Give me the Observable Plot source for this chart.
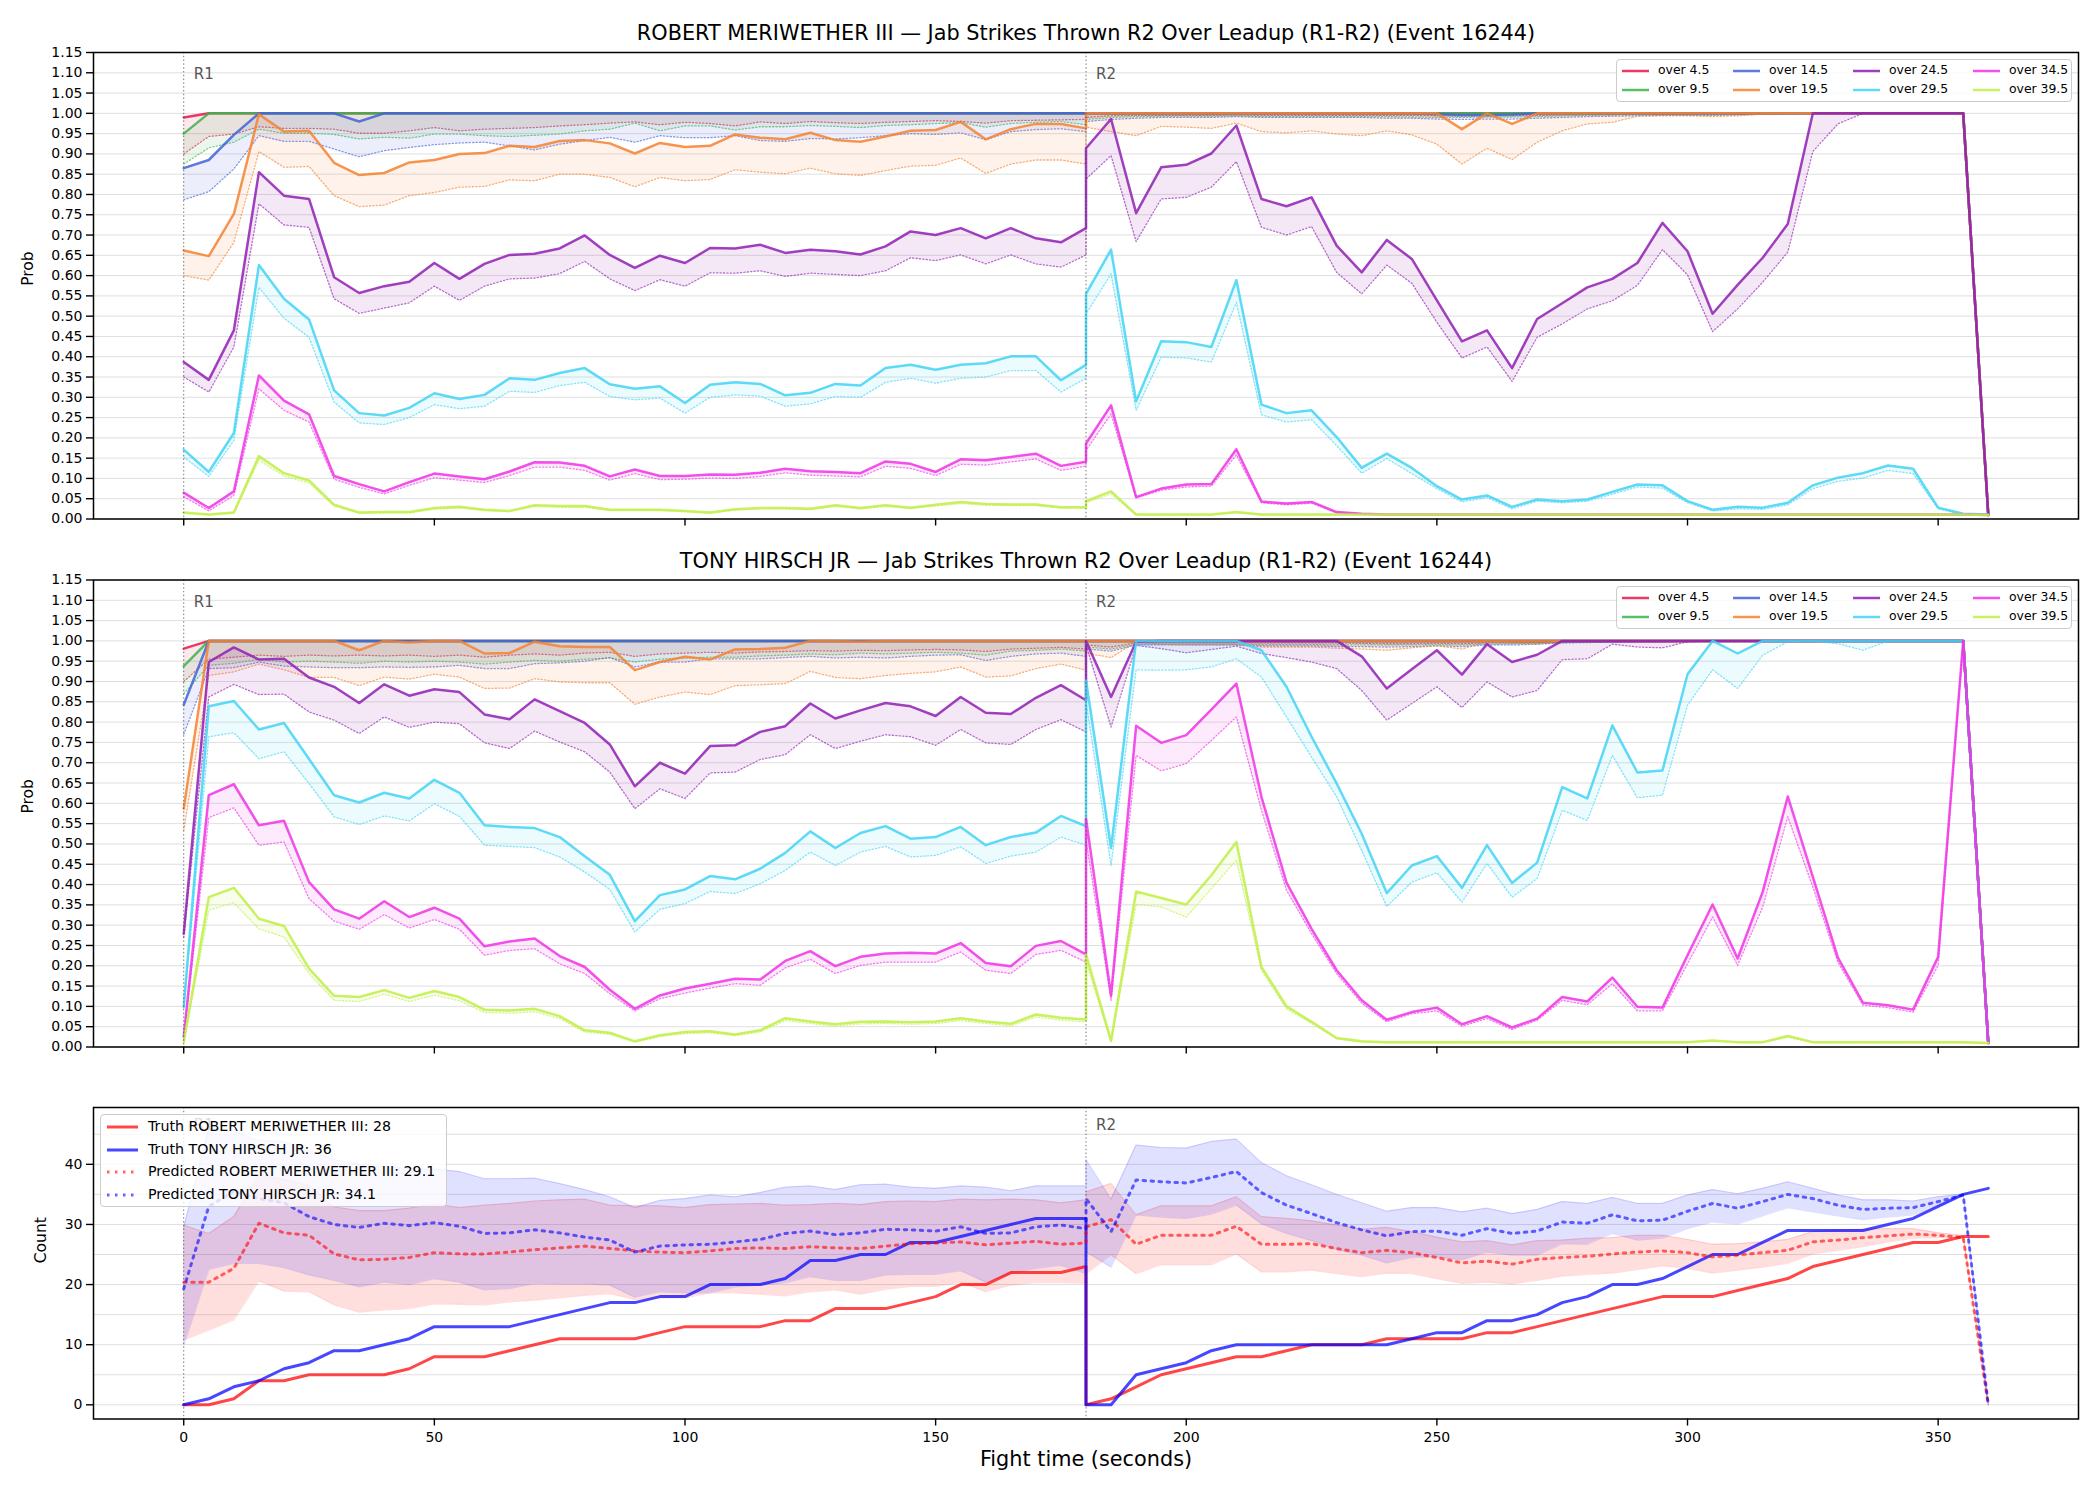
<!DOCTYPE html>
<html><head><meta charset="utf-8">
<script src="https://cdn.jsdelivr.net/npm/d3@7"></script>
<script src="https://cdn.jsdelivr.net/npm/@observablehq/plot@0.6"></script>
<style>
body{margin:0;background:#fff;font-family:"DejaVu Sans",sans-serif;}
#root{position:relative;width:2100px;height:1500px;overflow:hidden;background:#fff;}
.panel{position:absolute;left:0;}
.legend{position:absolute;background:rgba(255,255,255,0.8);border:1.3px solid #cccccc;border-radius:4px;box-sizing:border-box;color:#000;}
.legend .item{position:absolute;white-space:nowrap;line-height:1;}
.legend svg{position:absolute;overflow:visible;}
</style></head><body><div id="root"></div>
<script>
// ---------- time stamps (seconds) ----------
const tR1 = [0,5,10,15,20,25,30,35,40,45,50,55,60,65,70,75,80,85,90,95,100,105,110,115,120,125,130,135,140,145,150,155,160,165,170,175,180];
const tR2 = [180,185,190,195,200,205,210,215,220,225,230,235,240,245,250,255,260,265,270,275,280,285,290,295,300,305,310,315,320,325,330,335,340,345,350,355,360];
const roundStarts = [0, 180];
const roundNames = ["R1", "R2"];
const thresholdLabels = ["over 4.5","over 9.5","over 14.5","over 19.5","over 24.5","over 29.5","over 34.5","over 39.5"];
const palette = ["#e6194b","#3cb44b","#4363d8","#f58231","#911eb4","#42d4f4","#f032e6","#bfef45"];
const xTicks = [0,50,100,150,200,250,300,350];
const probTicks = [0,0.05,0.1,0.15,0.2,0.25,0.3,0.35,0.4,0.45,0.5,0.55,0.6,0.65,0.7,0.75,0.8,0.85,0.9,0.95,1,1.05,1.1,1.15];
const countTicks = [0,10,20,30,40];
const countGrid = [0,5,10,15,20,25,30,35,40,45];

// ---------- ROBERT MERIWETHER III : probability lines (solid = hi, dotted = lo) ----------
const rm_hi_45 = [0.99,1,1,1,1,1,1,1,1,1, 1,1,1,1,1,1,1,1,1,1, 1,1,1,1,1,1,1,1,1,1, 1,1,1,1,1,1,1,
  1,1,1,1,1,1,1,1,1,1, 1,1,1,1,1,1,1,1,1,1, 1,1,1,1,1,1,1,1,1,1, 1,1,1,1,1,1,0.01];
const rm_lo_45 = [0.90,0.943,0.949,0.967,0.963,0.963,0.961,0.951,0.951,0.957, 0.965,0.957,0.961,0.963,0.965,0.969,0.972,0.976,0.979,0.972, 0.978,0.975,0.969,0.979,0.975,0.98,0.977,0.975,0.978,0.98, 0.982,0.98,0.976,0.982,0.983,0.984,0.985,
  0.99,0.994,0.995,0.995,0.995,0.995,0.996,0.995,0.995,0.995, 0.995,0.995,0.995,0.995,0.994,0.993,0.994,0.994,0.995,0.996, 0.997,0.997,0.998,0.998,0.998,0.998,0.998,0.999,1,1, 1,1,1,1,1,1,0.01];
const rm_hi_95 = [0.95,1,1,1,1,1,1,1,1,1, 1,1,1,1,1,1,1,1,1,1, 1,1,1,1,1,1,1,1,1,1, 1,1,1,1,1,1,1,
  1,1,1,1,1,1,1,1,1,1, 1,1,1,1,1,1,1,1,1,1, 1,1,1,1,1,1,1,1,1,1, 1,1,1,1,1,1,0.01];
const rm_lo_95 = [0.875,0.915,0.929,0.961,0.951,0.951,0.948,0.937,0.941,0.939, 0.949,0.949,0.945,0.943,0.946,0.949,0.957,0.961,0.976,0.957, 0.969,0.969,0.959,0.967,0.967,0.97,0.968,0.965,0.97,0.972, 0.975,0.977,0.966,0.975,0.978,0.98,0.972,
  0.985,0.99,0.992,0.993,0.993,0.993,0.994,0.992,0.992,0.992, 0.992,0.992,0.992,0.991,0.99,0.99,0.991,0.991,0.992,0.994, 0.995,0.996,0.997,0.997,0.997,0.997,0.998,0.999,1,1, 1,1,1,1,1,1,0.01];
const rm_hi_145 = [0.865,0.885,0.947,1,1,1,1,0.98,1,1, 1,1,1,1,1,1,1,1,1,1, 1,1,1,1,1,1,1,1,1,1, 1,1,1,1,1,1,1,
  1,1,1,1,1,1,1,1,1,1, 1,1,1,1,0.998,0.996,0.996,0.997,1,1, 1,1,1,1,1,1,1,1,1,1, 1,1,1,1,1,1,0.01];
const rm_lo_145 = [0.787,0.807,0.863,0.945,0.931,0.931,0.912,0.893,0.908,0.916, 0.923,0.927,0.929,0.92,0.91,0.924,0.933,0.941,0.929,0.945, 0.94,0.94,0.945,0.933,0.931,0.938,0.937,0.94,0.945,0.95, 0.948,0.952,0.935,0.955,0.96,0.962,0.955,
  0.98,0.985,0.988,0.99,0.99,0.99,0.992,0.99,0.99,0.99, 0.99,0.99,0.988,0.988,0.986,0.985,0.986,0.986,0.988,0.99, 0.992,0.993,0.994,0.995,0.995,0.995,0.996,0.998,1,1, 1,1,1,1,1,1,0.01];
const rm_hi_195 = [0.662,0.648,0.752,0.998,0.955,0.957,0.878,0.848,0.853,0.879, 0.885,0.90,0.902,0.92,0.917,0.932,0.934,0.926,0.901,0.927, 0.917,0.92,0.948,0.94,0.936,0.952,0.934,0.93,0.943,0.957, 0.959,0.979,0.936,0.961,0.974,0.974,0.963,
  1,1,1,1,1,1,1,1,1,1, 1,1,1,1,1,0.961,1,0.974,1,1, 1,1,1,1,1,1,1,1,1,1, 1,1,1,1,1,1,0.01];
const rm_lo_195 = [0.60,0.589,0.682,0.906,0.867,0.869,0.797,0.77,0.774,0.797, 0.805,0.818,0.82,0.836,0.834,0.85,0.85,0.842,0.819,0.842, 0.834,0.837,0.861,0.855,0.851,0.865,0.851,0.847,0.859,0.87, 0.872,0.89,0.852,0.875,0.885,0.885,0.875,
  0.966,0.955,0.945,0.968,0.966,0.963,0.976,0.955,0.952,0.957, 0.949,0.945,0.957,0.947,0.924,0.875,0.914,0.886,0.929,0.957, 0.974,0.978,0.993,0.994,0.994,0.992,0.994,0.998,1,1, 1,1,1,1,1,1,0.01];
const rm_hi_245 = [0.387,0.343,0.465,0.855,0.797,0.789,0.596,0.557,0.574,0.585, 0.631,0.592,0.629,0.651,0.654,0.667,0.699,0.651,0.619,0.649, 0.631,0.668,0.667,0.676,0.656,0.664,0.66,0.652,0.672,0.709, 0.70,0.717,0.692,0.717,0.692,0.682,0.717,
  0.914,0.986,0.754,0.867,0.873,0.901,0.97,0.789,0.771,0.793, 0.674,0.608,0.688,0.641,0.539,0.438,0.465,0.372,0.493,0.532, 0.571,0.592,0.631,0.73,0.66,0.506,0.577,0.644,0.727,1, 1,1,1,1,1,1,0.01];
const rm_lo_245 = [0.35,0.313,0.424,0.777,0.725,0.719,0.543,0.507,0.52,0.533, 0.574,0.539,0.574,0.592,0.594,0.605,0.635,0.592,0.563,0.59, 0.574,0.607,0.606,0.612,0.598,0.606,0.603,0.60,0.612,0.644, 0.637,0.651,0.629,0.651,0.629,0.621,0.651,
  0.838,0.896,0.684,0.789,0.793,0.818,0.881,0.719,0.70,0.721, 0.608,0.555,0.626,0.581,0.485,0.397,0.424,0.339,0.448,0.481, 0.518,0.538,0.576,0.664,0.602,0.462,0.518,0.584,0.658,0.906, 0.974,1,1,1,1,1,0.01];
const rm_hi_295 = [0.171,0.116,0.212,0.626,0.543,0.492,0.317,0.261,0.255,0.274, 0.31,0.296,0.306,0.347,0.343,0.36,0.372,0.332,0.321,0.327, 0.286,0.331,0.337,0.333,0.305,0.311,0.333,0.329,0.372,0.38, 0.368,0.38,0.384,0.401,0.401,0.342,0.38,
  0.555,0.664,0.29,0.438,0.436,0.424,0.589,0.282,0.261,0.268, 0.202,0.126,0.161,0.126,0.081,0.048,0.058,0.03,0.048,0.044, 0.048,0.067,0.085,0.083,0.044,0.023,0.03,0.028,0.04,0.083, 0.102,0.113,0.132,0.124,0.028,0.013,0.011];
const rm_lo_295 = [0.153,0.105,0.194,0.571,0.495,0.448,0.288,0.237,0.233,0.25, 0.282,0.272,0.278,0.315,0.312,0.329,0.337,0.302,0.294,0.298, 0.261,0.30,0.306,0.303,0.278,0.284,0.302,0.30,0.337,0.347, 0.335,0.347,0.35,0.366,0.366,0.313,0.347,
  0.506,0.604,0.268,0.399,0.397,0.387,0.534,0.257,0.239,0.245, 0.181,0.113,0.149,0.112,0.075,0.042,0.053,0.025,0.044,0.04, 0.044,0.061,0.079,0.076,0.04,0.02,0.025,0.024,0.035,0.075, 0.093,0.101,0.12,0.112,0.025,0.011,0.01];
const rm_hi_345 = [0.065,0.027,0.068,0.354,0.292,0.258,0.106,0.086,0.068,0.091, 0.112,0.105,0.098,0.117,0.14,0.139,0.131,0.105,0.122,0.106, 0.106,0.11,0.109,0.114,0.124,0.118,0.116,0.113,0.142,0.136, 0.116,0.147,0.145,0.153,0.161,0.131,0.141,
  0.186,0.28,0.054,0.075,0.085,0.086,0.172,0.043,0.038,0.042, 0.017,0.013,0.011,0.011,0.011,0.011,0.011,0.011,0.011,0.011, 0.011,0.011,0.011,0.011,0.011,0.011,0.011,0.011,0.011,0.011, 0.011,0.011,0.011,0.011,0.011,0.011,0.01];
const rm_lo_345 = [0.055,0.02,0.058,0.321,0.268,0.239,0.098,0.078,0.062,0.083, 0.102,0.096,0.09,0.107,0.128,0.128,0.12,0.096,0.112,0.097, 0.098,0.101,0.1,0.105,0.114,0.108,0.106,0.104,0.13,0.125, 0.107,0.135,0.133,0.141,0.148,0.12,0.13,
  0.169,0.259,0.052,0.071,0.079,0.081,0.158,0.04,0.035,0.039, 0.015,0.012,0.01,0.01,0.01,0.01,0.01,0.01,0.01,0.01, 0.01,0.01,0.01,0.01,0.01,0.01,0.01,0.01,0.01,0.01, 0.01,0.01,0.01,0.01,0.01,0.01,0.01];
const rm_hi_395 = [0.016,0.011,0.016,0.155,0.113,0.095,0.035,0.016,0.017,0.017, 0.027,0.03,0.023,0.02,0.034,0.032,0.032,0.023,0.023,0.023, 0.02,0.016,0.024,0.027,0.027,0.025,0.034,0.027,0.034,0.028, 0.035,0.042,0.037,0.036,0.036,0.029,0.029,
  0.044,0.068,0.011,0.011,0.011,0.011,0.017,0.011,0.011,0.011, 0.011,0.011,0.011,0.011,0.011,0.011,0.011,0.011,0.011,0.011, 0.011,0.011,0.011,0.011,0.011,0.011,0.011,0.011,0.011,0.011, 0.011,0.011,0.011,0.011,0.011,0.011,0.01];
const rm_lo_395 = [0.014,0.01,0.014,0.145,0.106,0.089,0.032,0.014,0.015,0.015, 0.024,0.027,0.021,0.018,0.031,0.029,0.029,0.021,0.021,0.021, 0.018,0.014,0.022,0.025,0.025,0.023,0.031,0.025,0.031,0.026, 0.032,0.038,0.034,0.033,0.033,0.027,0.027,
  0.04,0.062,0.01,0.01,0.01,0.01,0.015,0.01,0.01,0.01, 0.01,0.01,0.01,0.01,0.01,0.01,0.01,0.01,0.01,0.01, 0.01,0.01,0.01,0.01,0.01,0.01,0.01,0.01,0.01,0.01, 0.01,0.01,0.01,0.01,0.01,0.01,0.01];

// ---------- TONY HIRSCH JR : probability lines ----------
const th_hi_45 = [0.981,1,1,1,1,1,1,1,1,1, 1,1,1,1,1,1,1,1,1,1, 1,1,1,1,1,1,1,1,1,1, 1,1,1,1,1,1,1,
  1,1,1,1,1,1,1,1,1,1, 1,1,1,1,1,1,1,1,1,1, 1,1,1,1,1,1,1,1,1,1, 1,1,1,1,1,1,0.01];
const th_lo_45 = [0.90,0.955,0.96,0.965,0.962,0.965,0.963,0.965,0.963,0.965, 0.962,0.965,0.96,0.965,0.968,0.965,0.97,0.972,0.962,0.968, 0.97,0.972,0.97,0.973,0.974,0.976,0.975,0.977,0.976,0.978, 0.979,0.978,0.974,0.98,0.982,0.984,0.98,
  0.99,0.985,0.995,0.995,0.995,0.995,0.995,0.995,0.995,0.995, 0.995,0.994,0.993,0.993,0.994,0.993,0.995,0.995,0.996,0.997, 0.998,0.998,0.998,0.998,0.999,1,1,1,1,1, 1,1,1,1,1,1,0.01];
const th_hi_95 = [0.938,1,1,1,1,1,1,1,1,1, 1,1,1,1,1,1,1,1,1,1, 1,1,1,1,1,1,1,1,1,1, 1,1,1,1,1,1,1,
  1,1,1,1,1,1,1,1,1,1, 1,1,1,1,1,1,1,1,1,1, 1,1,1,1,1,1,1,1,1,1, 1,1,1,1,1,1,0.01];
const th_lo_95 = [0.87,0.94,0.945,0.955,0.948,0.95,0.948,0.945,0.95,0.948, 0.95,0.948,0.943,0.948,0.952,0.95,0.955,0.958,0.948,0.955, 0.958,0.96,0.96,0.963,0.965,0.968,0.966,0.97,0.968,0.97, 0.972,0.97,0.965,0.975,0.977,0.98,0.975,
  0.985,0.98,0.992,0.992,0.992,0.992,0.992,0.991,0.991,0.991, 0.99,0.99,0.99,0.99,0.991,0.99,0.992,0.993,0.994,0.996, 0.997,0.997,0.998,0.998,0.999,1,1,1,1,1, 1,1,1,1,1,1,0.01];
const th_hi_145 = [0.843,1,1,1,1,1,1,1,1,1, 1,1,1,1,1,1,1,1,1,1, 1,1,1,1,1,1,1,1,1,1, 1,1,1,1,1,1,1,
  1,1,1,1,1,1,1,1,1,1, 1,1,1,1,1,1,1,1,1,1, 1,1,1,1,1,1,1,1,1,1, 1,1,1,1,1,1,0.01];
const th_lo_145 = [0.77,0.932,0.934,0.948,0.938,0.936,0.934,0.934,0.936,0.935, 0.936,0.94,0.932,0.932,0.944,0.946,0.95,0.959,0.936,0.948, 0.948,0.956,0.956,0.956,0.959,0.962,0.958,0.96,0.958,0.962, 0.965,0.966,0.952,0.962,0.968,0.97,0.962,
  0.98,0.975,0.99,0.99,0.99,0.99,0.99,0.988,0.988,0.988, 0.986,0.986,0.985,0.986,0.988,0.986,0.99,0.99,0.992,0.995, 0.996,0.997,0.998,0.998,0.999,1,1,1,1,1, 1,1,1,1,1,1,0.01];
const th_hi_195 = [0.587,1,1,1,1,1,1,0.977,1,0.996, 1,1,0.969,0.97,0.998,0.987,0.985,0.985,0.928,0.948, 0.961,0.954,0.979,0.98,0.983,1,1,0.998,1,1, 1,1,1,1,1,1,1,
  1,1,1,1,1,1,1,1,1,1, 1,1,1,1,1,1,1,1,1,1, 1,1,1,1,1,1,1,1,1,1, 1,1,1,1,1,1,0.01];
const th_lo_195 = [0.534,0.915,0.924,0.943,0.929,0.91,0.91,0.89,0.911,0.906, 0.918,0.911,0.883,0.884,0.907,0.899,0.897,0.897,0.844,0.862, 0.874,0.868,0.89,0.892,0.895,0.925,0.91,0.907,0.915,0.92, 0.924,0.936,0.911,0.914,0.932,0.943,0.928,
  0.97,0.959,0.998,0.992,0.99,0.99,0.99,0.985,0.985,0.985, 0.982,0.98,0.977,0.983,0.988,0.98,0.998,0.995,0.992,1, 1,1,1,1,1,1,1,1,1,1, 1,1,1,1,1,1,0.01];
const th_hi_245 = [0.279,0.948,0.984,0.954,0.956,0.91,0.887,0.847,0.893,0.865, 0.881,0.874,0.819,0.807,0.856,0.827,0.798,0.745,0.642,0.70, 0.673,0.741,0.743,0.776,0.79,0.846,0.809,0.829,0.847,0.839, 0.815,0.862,0.823,0.82,0.86,0.891,0.854,
  1,0.862,0.998,1,1,1,1,1,1,1, 1,0.962,0.883,0.93,0.977,0.917,0.992,0.948,0.966,1, 1,1,1,1,1,1,1,1,1,1, 1,1,1,1,1,1,0.01];
const th_lo_245 = [0.27,0.862,0.893,0.868,0.869,0.825,0.805,0.772,0.813,0.787, 0.80,0.796,0.749,0.735,0.778,0.751,0.727,0.677,0.587,0.636, 0.612,0.675,0.677,0.708,0.72,0.769,0.735,0.753,0.769,0.764, 0.743,0.782,0.749,0.745,0.782,0.806,0.776,
  0.99,0.788,0.989,0.981,0.971,0.979,0.987,0.969,0.959,0.948, 0.932,0.878,0.805,0.846,0.887,0.836,0.899,0.862,0.878,0.954, 0.956,0.992,0.985,0.983,0.998,1,1,1,1,1, 1,1,1,1,1,1,0.01];
const th_hi_295 = [0.099,0.839,0.852,0.782,0.798,0.709,0.62,0.602,0.626,0.612, 0.658,0.626,0.546,0.542,0.539,0.517,0.47,0.424,0.31,0.374, 0.388,0.421,0.413,0.439,0.478,0.531,0.49,0.527,0.544,0.513, 0.517,0.542,0.497,0.517,0.528,0.569,0.544,
  0.903,0.49,1,1,1,1,1,0.977,0.887,0.764, 0.649,0.525,0.379,0.447,0.47,0.392,0.497,0.404,0.454,0.64, 0.612,0.792,0.676,0.681,0.918,1,0.969,1,1,1, 1,1,1,1,1,1,0.01];
const th_lo_295 = [0.095,0.764,0.774,0.71,0.727,0.649,0.567,0.548,0.569,0.557, 0.599,0.568,0.497,0.494,0.491,0.468,0.431,0.388,0.283,0.339, 0.353,0.383,0.378,0.402,0.435,0.48,0.447,0.48,0.494,0.468, 0.472,0.493,0.452,0.47,0.48,0.517,0.497,
  0.85,0.447,0.929,0.928,0.929,0.936,0.956,0.911,0.813,0.714, 0.616,0.484,0.346,0.406,0.429,0.357,0.452,0.369,0.415,0.583, 0.558,0.718,0.614,0.62,0.842,0.929,0.883,0.965,0.998,1, 0.993,0.977,1,1,1,1,0.01];
const th_hi_345 = [0.025,0.62,0.647,0.546,0.557,0.406,0.339,0.316,0.359,0.32, 0.343,0.316,0.248,0.26,0.267,0.224,0.197,0.141,0.094,0.127, 0.144,0.156,0.168,0.166,0.212,0.236,0.199,0.222,0.23,0.232, 0.23,0.256,0.207,0.199,0.249,0.261,0.228,
  0.562,0.127,0.791,0.749,0.768,0.831,0.895,0.616,0.405,0.291, 0.189,0.115,0.067,0.086,0.097,0.056,0.076,0.048,0.07,0.123, 0.112,0.171,0.099,0.097,0.226,0.351,0.218,0.382,0.617,0.419, 0.22,0.109,0.103,0.092,0.222,1,0.01];
const th_lo_345 = [0.02,0.565,0.589,0.497,0.505,0.365,0.31,0.29,0.326,0.293, 0.314,0.29,0.226,0.238,0.242,0.205,0.181,0.131,0.089,0.119, 0.133,0.145,0.156,0.152,0.195,0.216,0.181,0.201,0.209,0.209, 0.209,0.234,0.189,0.181,0.228,0.238,0.209,
  0.51,0.115,0.718,0.68,0.698,0.755,0.813,0.583,0.386,0.279, 0.181,0.108,0.062,0.082,0.089,0.051,0.07,0.043,0.066,0.115, 0.104,0.156,0.089,0.089,0.205,0.32,0.201,0.345,0.567,0.394, 0.209,0.103,0.097,0.086,0.201,1,0.01];
const th_hi_395 = [0.012,0.369,0.392,0.316,0.298,0.193,0.126,0.123,0.14,0.121, 0.138,0.123,0.092,0.09,0.094,0.076,0.041,0.035,0.014,0.029, 0.037,0.039,0.031,0.041,0.071,0.063,0.056,0.062,0.063,0.061, 0.063,0.071,0.063,0.057,0.08,0.072,0.068,
  0.228,0.015,0.383,0.367,0.351,0.423,0.505,0.197,0.10,0.062, 0.022,0.014,0.012,0.012,0.012,0.012,0.012,0.012,0.012,0.012, 0.012,0.012,0.012,0.012,0.012,0.016,0.012,0.012,0.027,0.012, 0.012,0.012,0.012,0.012,0.012,0.012,0.01];
const th_lo_395 = [0.01,0.337,0.355,0.291,0.271,0.181,0.115,0.112,0.13,0.112, 0.128,0.114,0.085,0.083,0.087,0.07,0.037,0.031,0.012,0.026, 0.033,0.035,0.028,0.037,0.065,0.058,0.051,0.057,0.058,0.056, 0.058,0.065,0.058,0.052,0.074,0.066,0.062,
  0.21,0.012,0.351,0.345,0.32,0.39,0.46,0.189,0.094,0.058, 0.02,0.012,0.011,0.011,0.011,0.011,0.011,0.011,0.011,0.011, 0.011,0.011,0.011,0.011,0.011,0.014,0.011,0.011,0.024,0.011, 0.011,0.011,0.011,0.011,0.011,0.011,0.01];

// ---------- counts ----------
const truth_rm = [0,0,1,4,4,5,5,5,5,6, 8,8,8,9,10,11,11,11,11,12, 13,13,13,13,14,14,16,16,16,17, 18,20,20,22,22,22,23,
  0,1,3,5,6,7,8,8,9,10, 10,10,11,11,11,11,12,12,13,14, 15,16,17,18,18,18,19,20,21,23, 24,25,26,27,27,28,28];
const truth_th = [0,1,3,4,6,7,9,9,10,11, 13,13,13,13,14,15,16,17,17,18, 18,20,20,20,21,24,24,25,25,27, 27,28,29,30,31,31,31,
  0,0,5,6,7,9,10,10,10,10, 10,10,10,11,12,12,14,14,15,17, 18,20,20,21,23,25,25,27,29,29, 29,29,30,31,33,35,36];
const pred_rm = [20.4,20.4,22.7,30.2,28.6,28.2,25.1,24.1,24.2,24.5, 25.3,25.1,25.1,25.4,25.8,26.1,26.4,26.0,25.6,25.4, 25.3,25.6,26.0,26.1,26.0,26.3,26.1,26.0,26.4,26.8, 26.9,27.1,26.6,26.9,27.2,26.7,26.9,
  29.6,30.8,26.7,28.2,28.2,28.2,29.7,26.7,26.7,26.8, 26.0,25.3,25.7,25.3,24.5,23.6,23.9,23.4,24.2,24.5, 24.7,25.1,25.4,25.6,25.3,24.6,24.9,25.3,25.7,27.1, 27.4,27.8,28.1,28.4,28.2,27.8,0];
const pred_th = [19.3,33.0,35.5,34.3,33.6,31.3,30.0,29.5,30.2,29.8, 30.3,29.7,28.5,28.6,29.1,28.6,27.9,27.4,25.4,26.4, 26.6,26.7,27.1,27.5,28.5,28.9,28.3,28.6,29.2,29.1, 28.9,29.6,28.5,28.6,29.6,29.9,29.3,
  34.3,28.8,37.4,37.1,36.9,37.8,38.8,35.3,33.2,31.8, 30.3,29.1,28.1,28.8,28.9,28.2,29.3,28.5,28.9,30.4, 30.2,31.6,30.6,30.7,32.2,33.5,32.7,33.8,35.0,34.3, 33.2,32.5,32.7,32.8,33.8,34.9,0];
const band_rm_hi = [29.9,28.5,31.3,38.3,37.5,36.5,32.9,32.3,32.3,32.7, 33.4,32.8,33.2,33.5,33.9,34.1,34.2,33.2,33.1,33.1, 32.8,33.3,33.4,33.5,33.2,33.3,33.5,33.3,33.8,33.9, 33.8,34.2,34.1,34.2,34.1,33.6,34.1,
  35.4,36.8,31.6,33.1,33.1,33.1,34.6,31.3,31.0,30.6, 29.9,29.2,29.5,28.8,27.9,27.1,27.3,26.6,27.3,27.4, 27.7,27.8,28.2,28.2,27.5,26.7,26.8,27.1,27.5,28.8, 29.1,29.2,29.3,29.3,28.6,28.1,0];
const band_rm_lo = [10.8,12.4,14.1,20.6,18.9,18.8,16.6,15.4,15.8,16.0, 16.8,16.7,16.6,17.1,17.4,17.8,18.2,18.5,17.5,17.8, 17.8,18.6,18.6,18.4,18.1,18.8,19.1,18.4,19.2,19.7, 19.7,20.4,18.8,19.9,20.3,20.3,20.2,
  21.8,24.9,21.8,23.3,23.3,23.3,25.1,22.1,22.1,22.4, 21.8,21.3,21.9,21.8,21.0,20.2,20.4,20.1,20.7,21.4, 21.7,21.9,22.5,23.1,22.7,21.9,22.4,22.9,23.5,25.1, 25.7,26.3,27.1,27.7,27.8,27.9,0];
const band_th_hi = [29.5,46.0,45.5,44.0,43.8,42.3,40.8,40.0,39.6,39.3, 39.2,38.8,37.6,37.6,37.7,36.8,35.8,34.6,32.8,34.0, 34.3,34.9,34.6,35.3,36.2,36.4,35.8,36.6,36.7,36.2, 36.0,36.4,36.2,35.6,36.4,36.4,36.4,
  40.8,34.2,43.2,42.8,42.7,43.8,44.2,40.3,38.1,36.6, 35.0,33.6,32.2,32.8,32.8,32.1,32.7,31.8,32.5,33.8, 33.5,34.5,33.5,33.5,34.9,35.8,35.1,36.0,37.1,36.0, 34.9,34.1,34.1,33.9,34.6,35.1,0];
const band_th_lo = [9.9,22.5,23.5,23.5,22.8,21.6,20.7,19.6,20.4,20.0, 21.0,20.4,19.1,19.3,20.2,20.1,20.1,19.9,17.9,18.8, 18.6,18.6,19.6,19.9,20.3,21.3,20.7,20.7,21.6,21.7, 21.7,22.3,20.4,21.8,22.7,23.2,21.8,
  25.4,22.9,31.6,31.2,31.0,31.7,33.2,30.1,28.5,27.3, 25.8,24.9,23.6,24.5,24.6,24.1,25.4,24.9,24.9,26.8, 26.7,28.5,27.4,27.7,29.3,30.4,30.1,31.4,32.8,32.1, 31.4,30.8,31.2,31.6,33.1,34.9,0];

const titleRM = "ROBERT MERIWETHER III \u2014 Jab Strikes Thrown R2 Over Leadup (R1-R2) (Event 16244)";
const titleTH = "TONY HIRSCH JR \u2014 Jab Strikes Thrown R2 Over Leadup (R1-R2) (Event 16244)";
const countLegend = ["Truth ROBERT MERIWETHER III: 28","Truth TONY HIRSCH JR: 36","Predicted ROBERT MERIWETHER III: 29.1","Predicted TONY HIRSCH JR: 34.1"];

// ---------- assemble ----------
const T = tR1.concat(tR2);
const rmHi = [rm_hi_45,rm_hi_95,rm_hi_145,rm_hi_195,rm_hi_245,rm_hi_295,rm_hi_345,rm_hi_395];
const rmLo = [rm_lo_45,rm_lo_95,rm_lo_145,rm_lo_195,rm_lo_245,rm_lo_295,rm_lo_345,rm_lo_395];
const thHi = [th_hi_45,th_hi_95,th_hi_145,th_hi_195,th_hi_245,th_hi_295,th_hi_345,th_hi_395];
const thLo = [th_lo_45,th_lo_95,th_lo_145,th_lo_195,th_lo_245,th_lo_295,th_lo_345,th_lo_395];
[...rmHi,...rmLo,...thHi,...thLo,truth_rm,truth_th,pred_rm,pred_th,band_rm_hi,band_rm_lo,band_th_hi,band_th_lo].forEach((a,i)=>{
  if (a.length !== T.length) throw new Error("array #" + i + " has length " + a.length);
});

const W = 2100, ML = 93, MR = 22;
const xDomain = [-18, 378];
const baseStyle = {fontFamily: '"DejaVu Sans", sans-serif', fontSize: "14px", background: "transparent", overflow: "visible", color: "#000"};
const root = document.getElementById("root");

function place(el, top) {
  const wrap = document.createElement("div");
  wrap.className = "panel";
  wrap.style.top = top + "px";
  wrap.appendChild(el);
  root.appendChild(wrap);
}

function roundMarks(dy) {
  return [
    Plot.ruleX(roundStarts, {x: d => d, stroke: "#444", strokeOpacity: 0.75, strokeWidth: 1, strokeDasharray: "1.4,2.4"}),
    Plot.text(roundStarts, {x: d => d + 2, frameAnchor: "top", dy, text: (d, i) => roundNames[i], textAnchor: "start", fill: "#555", fontSize: 15})
  ];
}

function probPanel(hi, lo, title, top, height, mTop, mBottom) {
  const marks = [Plot.gridY(probTicks, {stroke: "#b0b0b0", strokeOpacity: 0.4, strokeWidth: 1})];
  hi.forEach((h, i) => {
    const rows = T.map((t, k) => ({t, hi: h[k], lo: lo[i][k]}));
    marks.push(Plot.areaY(rows, {x: "t", y1: "lo", y2: "hi", fill: palette[i], fillOpacity: 0.1}));
    marks.push(Plot.line(rows, {x: "t", y: "lo", stroke: palette[i], strokeOpacity: 0.65, strokeWidth: 1.3, strokeDasharray: "1.3,2.1"}));
    marks.push(Plot.line(rows, {x: "t", y: "hi", stroke: palette[i], strokeOpacity: 0.85, strokeWidth: 2.5}));
  });
  marks.push(...roundMarks(16));
  marks.push(
    Plot.axisY(probTicks, {tickFormat: d3.format(".2f"), tickSize: 7, tickPadding: 4, fontSize: 14, strokeWidth: 1.4, label: null}),
    Plot.axisX(xTicks, {tickFormat: () => "", tickSize: 7, strokeWidth: 1.4, label: null}),
    Plot.frame({stroke: "#000", strokeWidth: 1.5}),
    Plot.text([title], {frameAnchor: "top", dy: -27, fontSize: 20.8, text: d => d}),
    Plot.text(["Prob"], {frameAnchor: "left", dx: -65, rotate: -90, fontSize: 15.5, text: d => d})
  );
  const svg = Plot.plot({
    width: W, height, marginTop: mTop, marginBottom: mBottom, marginLeft: ML, marginRight: MR,
    x: {domain: xDomain}, y: {domain: [0, 1.15]},
    style: baseStyle, marks
  });
  place(svg, top);
  // legend
  const frameTop = top + mTop;
  const lg = document.createElement("div");
  lg.className = "legend";
  Object.assign(lg.style, {left: "1616px", top: (frameTop + 6.5) + "px", width: "456px", height: "43px"});
  const colX = [5, 116, 236, 356];
  thresholdLabels.forEach((lab, i) => {
    const c = Math.floor(i / 2), r = i % 2;
    const cy = r === 0 ? 11 : 30;
    const s = document.createElementNS("http://www.w3.org/2000/svg", "svg");
    s.setAttribute("width", 28); s.setAttribute("height", 6);
    s.style.left = colX[c] + "px"; s.style.top = (cy - 3) + "px";
    s.innerHTML = `<line x1="0" y1="3" x2="27" y2="3" stroke="${palette[i]}" stroke-opacity="0.85" stroke-width="2.5"/>`;
    lg.appendChild(s);
    const t = document.createElement("div");
    t.className = "item";
    t.textContent = lab;
    Object.assign(t.style, {left: (colX[c] + 36) + "px", top: (cy - 7) + "px", fontSize: "12.4px"});
    lg.appendChild(t);
  });
  root.appendChild(lg);
}

probPanel(rmHi, rmLo, titleRM, 0, 550, 52, 550 - 518.5);
probPanel(thHi, thLo, titleTH, 550, 520, 29.5, 1070 - 1046.5);

// ---------- count panel ----------
(function () {
  const rows = T.map((t, k) => ({t, tr: truth_rm[k], tt: truth_th[k], pr: pred_rm[k], pt: pred_th[k],
    rh: band_rm_hi[k], rl: band_rm_lo[k], bh: band_th_hi[k], bl: band_th_lo[k]}));
  const top = 1070, height = 430, mTop = 37, mBottom = 1500 - 1418.5;
  const dots = "2.5,5.5";
  const marks = [
    Plot.gridY(countGrid, {stroke: "#b0b0b0", strokeOpacity: 0.4, strokeWidth: 1}),
    Plot.areaY(rows, {x: "t", y1: "rl", y2: "rh", fill: "#ff0000", fillOpacity: 0.13}),
    Plot.line(rows, {x: "t", y: "rh", stroke: "#ff0000", strokeOpacity: 0.13, strokeWidth: 1.2}),
    Plot.line(rows, {x: "t", y: "rl", stroke: "#ff0000", strokeOpacity: 0.13, strokeWidth: 1.2}),
    Plot.areaY(rows, {x: "t", y1: "bl", y2: "bh", fill: "#0000ff", fillOpacity: 0.12}),
    Plot.line(rows, {x: "t", y: "bh", stroke: "#0000ff", strokeOpacity: 0.12, strokeWidth: 1.2}),
    Plot.line(rows, {x: "t", y: "bl", stroke: "#0000ff", strokeOpacity: 0.12, strokeWidth: 1.2}),
    ...roundMarks(12),
    Plot.line(rows, {x: "t", y: "tr", stroke: "#ff0000", strokeOpacity: 0.72, strokeWidth: 3}),
    Plot.line(rows, {x: "t", y: "tt", stroke: "#0000ff", strokeOpacity: 0.72, strokeWidth: 3}),
    Plot.line(rows, {x: "t", y: "pr", stroke: "#ff0000", strokeOpacity: 0.6, strokeWidth: 3, strokeDasharray: dots}),
    Plot.line(rows, {x: "t", y: "pt", stroke: "#0000ff", strokeOpacity: 0.6, strokeWidth: 3, strokeDasharray: dots}),
    Plot.axisY(countTicks, {tickSize: 7, tickPadding: 4, fontSize: 14, strokeWidth: 1.4, label: null}),
    Plot.axisX(xTicks, {tickSize: 7, tickPadding: 6, fontSize: 14, strokeWidth: 1.4, label: null}),
    Plot.frame({stroke: "#000", strokeWidth: 1.5}),
    Plot.text(["Count"], {frameAnchor: "left", dx: -52, rotate: -90, fontSize: 15.5, text: d => d}),
    Plot.text(["Fight time (seconds)"], {frameAnchor: "bottom", dy: 47, fontSize: 20.8, text: d => d})
  ];
  const svg = Plot.plot({
    width: W, height, marginTop: mTop, marginBottom: mBottom, marginLeft: ML, marginRight: MR,
    x: {domain: xDomain}, y: {domain: [-2.36, 49.45]},
    style: baseStyle, marks
  });
  place(svg, top);
  const lg = document.createElement("div");
  lg.className = "legend";
  Object.assign(lg.style, {left: "100px", top: "1114px", width: "347px", height: "93px"});
  const styles = [
    {c: "#ff0000", dash: null, op: 0.72},
    {c: "#0000ff", dash: null, op: 0.72},
    {c: "#ff0000", dash: dots, op: 0.6},
    {c: "#0000ff", dash: dots, op: 0.6}
  ];
  countLegend.forEach((lab, i) => {
    const cy = 12 + i * 22.7;
    const s = document.createElementNS("http://www.w3.org/2000/svg", "svg");
    s.setAttribute("width", 32); s.setAttribute("height", 6);
    s.style.left = "6px"; s.style.top = (cy - 3) + "px";
    s.innerHTML = `<line x1="0" y1="3" x2="31" y2="3" stroke="${styles[i].c}" stroke-opacity="${styles[i].op}" stroke-width="3" ${styles[i].dash ? `stroke-dasharray="${styles[i].dash}"` : ""}/>`;
    lg.appendChild(s);
    const t = document.createElement("div");
    t.className = "item";
    t.textContent = lab;
    Object.assign(t.style, {left: "47px", top: (cy - 8) + "px", fontSize: "14.2px"});
    lg.appendChild(t);
  });
  root.appendChild(lg);
})();
</script></body></html>
